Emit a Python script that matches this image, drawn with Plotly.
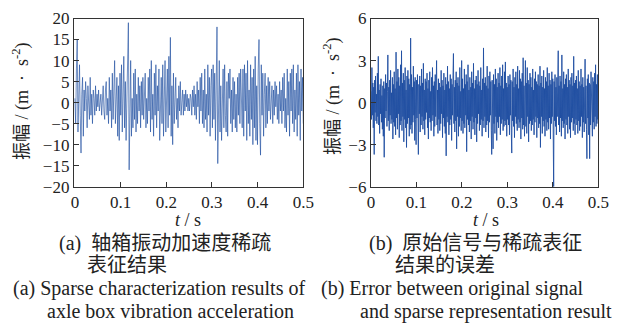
import numpy as np
import plotly.graph_objects as go

# ---------------- data ----------------
# (a) sparse characterization result, m/s^2, 300 samples over 0..0.5 s
sparse_a = [
    1, -5, 8, 15, -7, 4, 9, -3, -12, 2, 6, -8, 3, -2, 5, 1, -6, 4, -1, -4, 6, -3, 2, -5, 3, 1, -3, 4, -2, 2,
    -1, 3, -2, 1, 2, -3, 1, 4, -2, -4, 3, 5, -3, 1, -5, 6, -2, 3, -6, 7, -4, 2, 10, -5, -1, 6, -8, 4, -9, 7,
    -3, 9, -7, 2, 11, -6, 5, -9, 3, 8, 19, -16, 4, 10, -8, 1, -6, 7, -4, 8, -7, 2, -5, 6, -2, 4, -6, 5, -3, 6,
    -4, 3, 7, -6, 1, -5, 6, -2, 8, -7, 10, -4, 2, -8, 7, -3, 9, -6, 4, -2, 8, -9, 3, 6, -5, 9, -8, 2, 10, -7,
    5, 8, -6, 11, -3, 15.5, -8, 4, -10, 7, -5, 2, 6, -4, 1, -6, 4, -2, 5, -3, 1, 3, -3, 2, -2, 3, -1, 2, -2, 1,
    -2, 2, 1, -3, 3, -1, 4, -3, 2, -4, 5, -1, 3, -5, 6, -2, 7, -5, 3, -6, 8, -4, 2, -7, 9, -3, 6, -8, 4, 8,
    -6, 9, -4, 7, -9, 3, 18, -14.5, 6, 10, -7, 4, -9, 2, 8, -6, 9, -3, -7, 5, -8, 7, 1, 8, -5, 3, -7, 6, -4, 5,
    -6, 2, -7, 6, -3, 7, -5, 8, 1, -6, 8, -8, 9, -2, 7, -9, 10, -5, 3, -8, 9, -4, 6, -10, 8, -6, 11, -9, 4, -10,
    8, 15, -5, -12.5, 9, -3, 7, -8, 2, 7, -6, 4, -5, 6, -2, 5, -4, 1, 4, -5, 3, -3, 5, -1, 4, -4, 2, -5, 5, -2,
    3, -5, 6, -2, 7, -6, 1, -7, 8, -3, 5, -8, 7, -2, 8, -5, 9, -7, 3, -4, 7, -8, 9, -3, 5, -9, 8, -2, 6, -5,
]

# (b) error between original signal and sparse representation, m/s^2, 500 samples
error_b = [
    0.8, -1.2, 2.5, -0.9, 1.4, -1.8, 1.1, -3.7, 1.6, -0.7, 1.9, -1.3, 0.6, -1.5, 2.1, -1.0, 3.3, -1.6, 0.9, -2.2,
    1.3, -0.8, 1.7, -1.4, 0.5, -1.9, 1.2, -2.4, 1.5, -3.9, 1.0, -1.1, 2.0, -0.6, 1.4, -1.7, 0.8, 3.4, -1.3, 1.1,
    -2.0, 1.6, -0.9, 2.3, -1.5, 0.7, -1.2, 1.8, -2.6, 1.3,
    -1.4, 2.2, -1.7, 1.0, -2.3, 3.6, -1.1, 1.5, -1.9, 2.4, -0.8, 1.8, -2.5, 1.2, -1.6, 2.7, -1.3, 3.7, -2.0, 1.4,
    -1.0, 2.1, -2.8, 1.6, -1.2, 2.5, -1.8, 0.9, -3.2, 1.9, -1.5, 2.3, -1.1, 1.7, -2.4, 1.3, -1.9, 4.6, -1.6, 2.0,
    -2.2, 1.1, -1.4, 2.6, -0.9, 1.5, -2.7, 1.8, -1.2, -3.0,
    1.6, -1.1, 2.0, -1.5, -3.7, 1.3, -0.8, 1.9, -2.1, 1.2, -1.6, 2.4, -1.0, 1.4, -1.9, 2.8, -1.3, 0.9, -2.3, 1.7,
    -1.2, 1.5, -0.7, 2.1, -1.8, 1.0, -2.6, 1.6, -1.1, 2.2, -1.4, 0.8, -2.0, 1.8, -1.3, 2.5, -0.9, 1.2, -2.4, 1.5,
    -1.7, 2.0, -1.0, 1.3, 3.0, -1.6, 0.9, -2.2, 1.7, -1.2,
    1.4, -2.0, 1.1, -1.5, 2.3, -0.8, 1.6, -2.5, 1.2, -1.1, 2.1, -1.7, 0.9, -2.2, 1.8, -3.8, 1.3, -1.0, 2.6, -1.4,
    1.5, -2.3, 1.0, -1.6, 2.0, -1.2, 1.7, -2.7, 1.3, -0.9, 1.9, 3.5, -1.5, 1.1, -2.1, 1.6, -1.3, 2.2, -3.3, 1.4,
    -1.0, 1.8, -2.4, 1.2, -1.7, 2.5, -1.1, 0.8, -2.0, 3.0,
    -1.3, 1.7, -2.2, 1.0, -1.5, 2.4, -1.8, 1.3, -0.9, 2.0, -3.5, 1.5, -1.2, 2.7, -1.6, 0.9, -2.1, 1.8, -1.3, 1.1,
    -2.6, 2.2, -1.0, 1.4, -1.9, 2.8, -1.4, 1.0, -2.3, 1.6, -1.1, 1.9, -2.8, 1.3, -1.5, 2.3, -0.8, 1.5, -2.0, 1.2,
    -1.6, 2.5, -1.2, 0.9, -2.4, 1.7, -1.3, 3.9, -1.8, 1.4,
    -1.0, 1.8, -2.1, 1.2, -1.6, 2.6, -1.3, 1.0, -2.5, 1.9, -1.4, 2.2, -0.9, 1.5, -2.0, -3.7, 1.6, -1.1, -3.3, 2.0,
    -1.5, 1.3, -2.2, 2.4, -1.0, 1.7, -2.7, 1.1, -1.4, 2.1, -1.8, 1.4, -1.0, 2.5, -2.3, 1.2, -1.5, 1.9, -1.2, 2.7,
    -2.0, 1.0, -1.7, 2.2, -1.3, 2.9, -1.6, 1.4, -2.4, 1.1,
    -1.2, 1.9, -1.6, 1.3, -2.3, 2.0, -0.9, 1.6, -2.1, -3.6, 1.5, -1.3, 2.4, -1.7, 1.1, -2.5, 1.8, -1.0, 2.2, -1.5,
    1.3, -2.0, 2.6, -1.2, 1.0, -1.8, 2.3, -1.4, 1.7, -2.6, 1.5, -1.1, 2.1, -1.9, 3.2, -1.6, 1.2, -2.4, 2.0, 3.0,
    -1.7, 1.4, -2.2, 2.5, -1.0, 1.6, -2.8, 1.3, -1.5, 2.1,
    -1.3, 1.8, -2.0, 1.1, -1.6, 2.4, -1.2, 0.9, -2.3, 1.7, -1.4, 2.2, -1.0, 1.5, -2.5, 1.3, -1.1, 2.0, -1.8, 1.2,
    -1.5, 2.6, -3.2, 1.4, -1.0, 1.9, -2.2, 1.1, -1.3, 2.3, -1.7, 1.0, -2.4, 1.8, -1.2, 1.5, -2.0, 2.5, -1.4, 1.2,
    -1.9, 2.1, -1.1, 1.6, -2.6, 1.3, -1.5, 2.2, -1.0, 1.7,
    -1.2, -6.0, 1.5, -1.3, 2.0, -1.7, 1.1, -2.3, 1.8, -1.0, 1.4, 3.7, -1.6, 1.2, -2.1, 1.9, -1.1, 1.5, -2.4, 3.4,
    -1.3, 1.0, -1.8, 2.2, -1.5, 1.3, -2.6, 1.7, -1.2, 2.0, -1.6, 1.1, -2.2, 2.4, -1.0, 1.6, -1.9, 1.3, -2.5, 1.8,
    -1.4, 2.1, -1.1, 1.2, -2.0, 3.3, -1.5, 1.4, -2.3, 1.6,
    -1.2, 1.9, -1.6, 1.0, -2.2, 2.3, -1.3, 1.5, -2.0, 1.2, -1.7, 2.4, -1.0, 1.3, -2.5, 1.8, -1.4, 1.1, -2.1, 1.6,
    3.1, -1.5, 1.2, -1.9, -4.0, 1.7, -1.1, 2.0, -2.3, 1.4, -4.0, 1.3, -1.6, 2.2, -1.2, 1.0, -2.4, 1.8, -1.4, 1.5,
    -1.9, 2.1, -1.0, 2.7, -1.7, 1.3, -1.5, 2.0, -1.2, 1.6,
]

t_a = np.linspace(0.0, 0.5, len(sparse_a))
t_b = np.linspace(0.0, 0.5, len(error_b))

x_ticks = [0, 0.1, 0.2, 0.3, 0.4, 0.5]
x_tick_text = ["0", "0.1", "0.2", "0.3", "0.4", "0.5"]
y_ticks_a = [-20, -15, -10, -5, 0, 5, 10, 15, 20]
y_ticks_b = [-6, -3, 0, 3, 6]

y_title = "振幅 / (m &nbsp;· &nbsp;s<sup>-2</sup>)"
x_title = "<i>t</i> / s"
cap_a = ["(a)  轴箱振动加速度稀疏", "表征结果",
         "(a) Sparse characterization results of", "axle box vibration acceleration"]
cap_b = ["(b)  原始信号与稀疏表征", "结果的误差",
         "(b) Error between original signal", "and sparse representation result"]

# ---------------- figure ----------------
W, H = 620, 324
LINE = "#1f4ea1"
LINE_A = "rgba(31,78,161,0.85)"
FRAME = "#333333"
SERIF = "Liberation Serif, Noto Sans CJK SC, serif"
TICKFONT = dict(family="Liberation Serif", size=17, color="#222222")


def px(x):
    return x / W


def py(y):
    return 1 - y / H


fig = go.Figure()
fig.add_trace(go.Scatter(x=t_a, y=sparse_a, mode="lines",
                         line=dict(color=LINE_A, width=0.75), xaxis="x", yaxis="y",
                         showlegend=False))
fig.add_trace(go.Scatter(x=t_b, y=error_b, mode="lines",
                         line=dict(color=LINE, width=0.9), xaxis="x2", yaxis="y2",
                         showlegend=False))

axis_common = dict(showline=True, mirror=True, linecolor=FRAME, linewidth=1.3,
                   ticks="inside", ticklen=5, tickwidth=1.3, tickcolor=FRAME,
                   showgrid=False, zeroline=False, automargin=False,
                   tickfont=TICKFONT)

ydom = [py(186.7), py(18.5)]
fig.update_layout(
    template="none",
    width=W, height=H,
    margin=dict(l=0, r=0, t=0, b=0, pad=0),
    paper_bgcolor="white", plot_bgcolor="white",
    showlegend=False,
    xaxis=dict(domain=[px(74), px(303.3)], range=[-0.002, 0.5],
               tickvals=x_ticks, ticktext=x_tick_text, anchor="y", **axis_common),
    yaxis=dict(domain=ydom, range=[-20, 20], tickvals=y_ticks_a, anchor="x",
               **axis_common),
    xaxis2=dict(domain=[px(371), px(598.3)], range=[0, 0.5],
                tickvals=x_ticks, ticktext=x_tick_text, anchor="y2", **axis_common),
    yaxis2=dict(domain=ydom, range=[-6, 6], tickvals=y_ticks_b, anchor="x2",
                **axis_common),
)

ann = []
# axis titles
ann.append(dict(x=px(21), y=py(101), text=y_title, textangle=-90,
                font=dict(family=SERIF, size=18, color="#222222")))
ann.append(dict(x=px(332), y=py(96), text=y_title, textangle=-90,
                font=dict(family=SERIF, size=18, color="#222222")))
ann.append(dict(x=px(188), y=py(220), text=x_title,
                font=dict(family=SERIF, size=18, color="#222222")))
ann.append(dict(x=px(486), y=py(220), text=x_title,
                font=dict(family=SERIF, size=18, color="#222222")))

# captions
cap_y = [243, 265, 288.5, 311]
cap_xa = [165, 126.5, 159, 170]
cap_xb = [475.6, 444.5, 452, 486]
for txt, xx, yy in zip(cap_a, cap_xa, cap_y):
    ann.append(dict(x=px(xx), y=py(yy), text=txt,
                    font=dict(family=SERIF, size=20, color="#222222")))
for txt, xx, yy in zip(cap_b, cap_xb, cap_y):
    ann.append(dict(x=px(xx), y=py(yy), text=txt,
                    font=dict(family=SERIF, size=20, color="#222222")))

for a in ann:
    a.update(xref="paper", yref="paper", showarrow=False,
             xanchor="center", yanchor="middle")
fig.update_layout(annotations=ann)

fig.write_html(
    "out.html",
    config={"displayModeBar": False},
    post_script="document.body.style.margin='0';document.body.style.overflow='hidden';",
)
